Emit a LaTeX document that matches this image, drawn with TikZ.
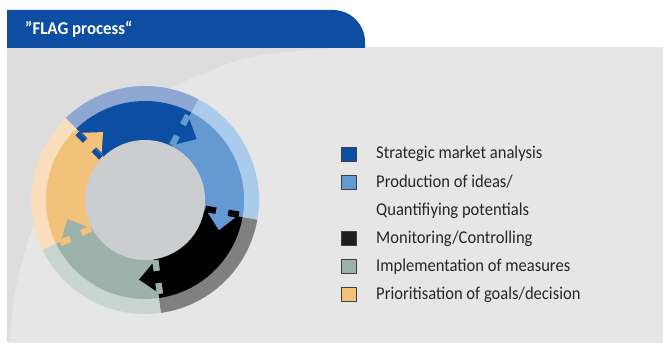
\documentclass[tikz,border=0pt]{standalone}
\usepackage{fontspec}
\setmainfont{Carlito}
\newfontfamily\legendfont[FakeStretch=0.92]{Carlito}
\newfontfamily\titlefont[FakeStretch=0.94]{Carlito}
\usepackage{xcolor}
\usetikzlibrary{positioning}

\definecolor{tabblue}{RGB}{13,78,162}
\definecolor{paneldark}{RGB}{221,221,221}
\definecolor{panellight}{RGB}{230,230,230}
\definecolor{innergray}{RGB}{204,205,207}
\definecolor{segblue}{RGB}{12,78,162}
\definecolor{bandblue}{RGB}{142,167,210}
\definecolor{seglight}{RGB}{101,153,209}
\definecolor{bandlight}{RGB}{170,203,236}
\definecolor{segblack}{RGB}{0,0,0}
\definecolor{bandblack}{RGB}{128,128,128}
\definecolor{segsage}{RGB}{155,177,170}
\definecolor{bandsage}{RGB}{201,213,209}
\definecolor{segorange}{RGB}{242,194,122}
\definecolor{bandorange}{RGB}{249,222,190}

\tikzset{
  legbox/.style={draw=black!75, line width=0.6pt, minimum width=15pt, minimum height=14pt, inner sep=0pt},
  legtext/.style={anchor=base west, inner sep=0pt, text=black!85, font=\legendfont\fontsize{18}{20}\selectfont},
}

\begin{document}
\begin{tikzpicture}[x=1pt,y=1pt]
\useasboundingbox (0,0) rectangle (663,343);
\fill[white] (0,0) rectangle (663,343);

\fill[paneldark] (7,1) rectangle (663,295);
\begin{scope}
\clip (7,1) rectangle (663,295);
\fill[panellight] plot[smooth] coordinates {(10,-2) (10,3) (13,40) (20,73) (33,116) (59,158) (91,198) (128,232) (173,256) (200,268) (250,286) (320,294) (345,296)} -- (663,296) -- (663,-2) -- cycle;
\end{scope}

\fill[tabblue] (7,295) -- (7,333) -- (333,333) arc[start angle=90, end angle=0, radius=32] -- (365,295) -- cycle;
\node[anchor=base west, inner sep=0pt, text=white, font=\titlefont\bfseries\fontsize{18}{22}\selectfont] (title) at (25,308) {”FLAG process“};

\begin{scope}[shift={(145,143)}]
\foreach \a/\c/\l in {134/segblue/bandblue, 62/seglight/bandlight, -10/segblack/bandblack, -82/segsage/bandsage, -154/segorange/bandorange}{
  \fill[\l] (0,0) -- (\a:114) arc[start angle=\a, end angle=\a-72, radius=114] -- cycle;
  \fill[\c] (0,0) -- (\a:99) arc[start angle=\a, end angle=\a-72, radius=99] -- cycle;
}
\foreach \a/\p/\n in {134/segorange/segblue, 62/segblue/seglight, -10/seglight/segblack, -82/segblack/segsage, -154/segsage/segorange}{
  \begin{scope}[rotate=\a]
    \fill[\n] (61,0) rectangle (72,5) (84,0) rectangle (95,5);
    \fill[\p] (72,5) rectangle (84,-1.5) (64,-1.5) -- (92,-1.5) -- (78,-17) -- cycle;
  \end{scope}
}
\fill[innergray] (0,0) circle[radius=60];
\end{scope}

\node[legbox, fill=segblue] (sq1) at (349,189) {};
\node[legbox, fill=seglight] (sq2) at (349,161) {};
\node[legbox, fill=black!88] (sq3) at (349,105) {};
\node[legbox, fill=segsage] (sq4) at (349,77) {};
\node[legbox, fill=segorange] (sq5) at (349,49) {};

\node[legtext] (strategic) at (376,184) {Strategic market analysis};
\node[legtext] (ideas) at (376,156) {Production of ideas/};
\node[legtext] (potentials) at (376,128) {Quantifiying potentials};
\node[legtext] (monitoring) at (376,100) {Monitoring/Controlling};
\node[legtext] (measures) at (376,72) {Implementation of measures};
\node[legtext] (goals) at (376,44) {Prioritisation of goals/decision};
\end{tikzpicture}
\end{document}
